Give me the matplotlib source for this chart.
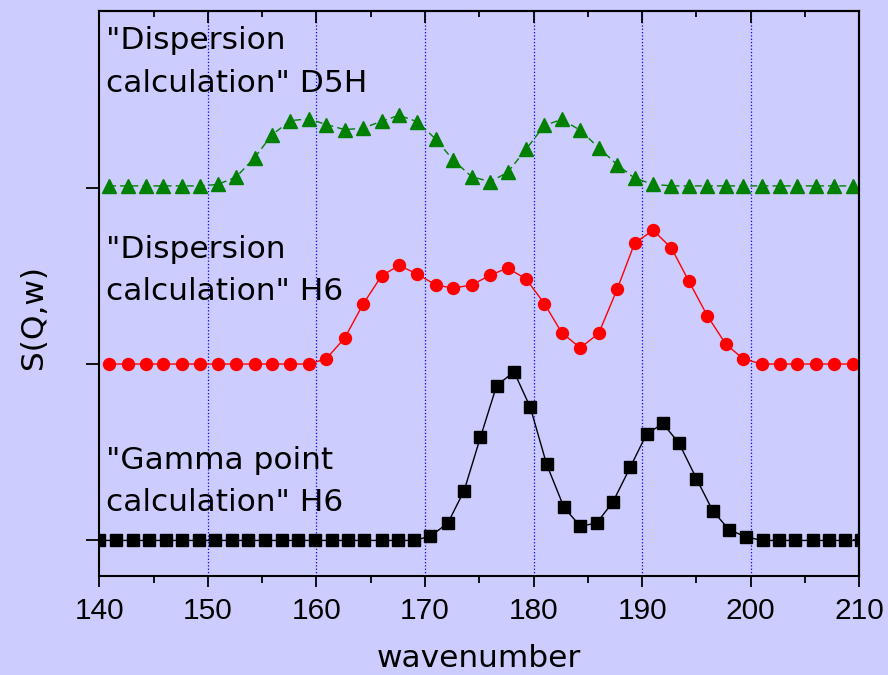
import matplotlib
matplotlib.use('Agg')
import matplotlib.pyplot as plt
from matplotlib.ticker import MultipleLocator

# wavenumber grids (gamma point run is sampled a bit finer)
wn_gamma = [140.0, 141.5, 143.1, 144.6, 146.1, 147.6, 149.2, 150.7, 152.2, 153.7,
            155.3, 156.8, 158.3, 159.9, 161.4, 162.9, 164.4, 166.0, 167.5, 169.0,
            170.5, 172.1, 173.6, 175.1, 176.6, 178.2, 179.7, 181.2, 182.8, 184.3,
            185.8, 187.3, 188.9, 190.4, 191.9, 193.4, 195.0, 196.5, 198.0, 199.6,
            201.1, 202.6, 204.1, 205.7, 207.2, 208.7, 210.2]
wn_disp = [140.9, 142.6, 144.3, 145.9, 147.6, 149.3, 150.9, 152.6, 154.3, 155.9,
           157.6, 159.3, 160.9, 162.6, 164.3, 166.0, 167.6, 169.3, 171.0, 172.6,
           174.3, 176.0, 177.6, 179.3, 181.0, 182.6, 184.3, 186.0, 187.7, 189.3,
           191.0, 192.7, 194.3, 196.0, 197.7, 199.3, 201.0, 202.7, 204.3, 206.0,
           207.7, 209.4]

# S(Q,w) above each baseline
s_gamma_h6 = [0, 0, 0, 0, 0, 0, 0, 0, 0, 0,
              0, 0, 0, 0, 0, 0, 0, 0, 0, 0,
              0.024, 0.098, 0.282, 0.584, 0.878, 0.956, 0.754, 0.432, 0.187, 0.081,
              0.098, 0.217, 0.415, 0.602, 0.663, 0.551, 0.350, 0.168, 0.061, 0.019,
              0, 0, 0, 0, 0, 0, 0]
s_disp_h6 = [0, 0, 0, 0, 0, 0, 0, 0, 0, 0,
             0, 0, 0.030, 0.147, 0.340, 0.500, 0.559, 0.510, 0.448, 0.431,
             0.448, 0.504, 0.544, 0.483, 0.342, 0.177, 0.092, 0.174, 0.425, 0.684,
             0.759, 0.657, 0.470, 0.274, 0.113, 0.030, 0, 0, 0, 0,
             0, 0]
s_disp_d5h = [0.010, 0.010, 0.010, 0.010, 0.010, 0.010, 0.018, 0.060, 0.170, 0.299,
              0.380, 0.390, 0.358, 0.329, 0.337, 0.377, 0.410, 0.374, 0.274, 0.156,
              0.062, 0.034, 0.086, 0.217, 0.353, 0.387, 0.325, 0.226, 0.130, 0.054,
              0.019, 0.010, 0.010, 0.010, 0.010, 0.010, 0.010, 0.010, 0.010, 0.010,
              0.010, 0.010]

offsets = [0, 1, 2]
labels = ['"Gamma point\ncalculation" H6',
          '"Dispersion\ncalculation" H6',
          '"Dispersion\ncalculation" D5H']

bg = '#ccccff'
fig = plt.figure(figsize=(8.88, 6.75), dpi=100, facecolor=bg)
ax = fig.add_axes([0.1118, 0.1471, 0.8559, 0.8362])
ax.set_facecolor(bg)

ax.plot(wn_gamma, [v + offsets[0] for v in s_gamma_h6], color='black', lw=1,
        marker='s', ms=8, mec='black', mfc='black')
ax.plot(wn_disp, [v + offsets[1] for v in s_disp_h6], color='red', lw=1,
        marker='o', ms=8.6, mec='red', mfc='red')
ax.plot(wn_disp, [v + offsets[2] for v in s_disp_d5h], color='#008000', lw=1,
        dashes=(5, 3), marker='^', ms=10, mec='#008000', mfc='#008000')

ax.set_xlim(140, 210)
ax.set_ylim(-0.2, 3.0)
ax.xaxis.set_major_locator(MultipleLocator(10))
ax.xaxis.set_minor_locator(MultipleLocator(5))
ax.set_yticks(offsets)
ax.set_yticklabels([])

for x in range(150, 210, 10):
    ax.axvline(x, color='#0000ff', lw=0.9, ls=':', zorder=0)

for s in ax.spines.values():
    s.set_linewidth(1.5)

ax.tick_params(axis='x', which='major', direction='out', length=8, width=1.3,
               pad=7, labelsize=21.5, top=False)
ax.tick_params(axis='x', which='minor', direction='out', length=5, width=1.3, top=False)
ax.tick_params(axis='y', which='major', direction='out', length=9.5, width=1.3, right=False)
for lab in ax.get_xticklabels():
    lab.set_fontfamily('Liberation Sans')

top = ax.secondary_xaxis('top')
top.xaxis.set_major_locator(MultipleLocator(10))
top.xaxis.set_minor_locator(MultipleLocator(5))
top.tick_params(which='major', direction='in', length=8.5, width=1.3, labeltop=False)
top.tick_params(which='minor', direction='in', length=4.3, width=1.3, labeltop=False)
top.spines['top'].set_linewidth(1.5)

right = ax.secondary_yaxis('right')
right.set_yticks(offsets)
right.tick_params(direction='in', length=4, width=1.3, labelright=False)
right.spines['right'].set_linewidth(1.5)

ax.set_xlabel('wavenumber', fontsize=22.5, va='baseline')
ax.xaxis.set_label_coords(0.5, -0.161)
ax.set_ylabel('S(Q,w)', fontsize=22.5)
ax.yaxis.set_label_coords(-0.0675, 0.458)

# baseline of the second line of each note
label_y = [0.1143, 0.4885, 0.8576]
for txt, yy in zip(labels, label_y):
    ax.text(0.009, yy, txt, transform=ax.transAxes, fontsize=22.5,
            va='baseline', ha='left', linespacing=1.58)

fig.savefig('out.png', dpi=100, facecolor=bg)
